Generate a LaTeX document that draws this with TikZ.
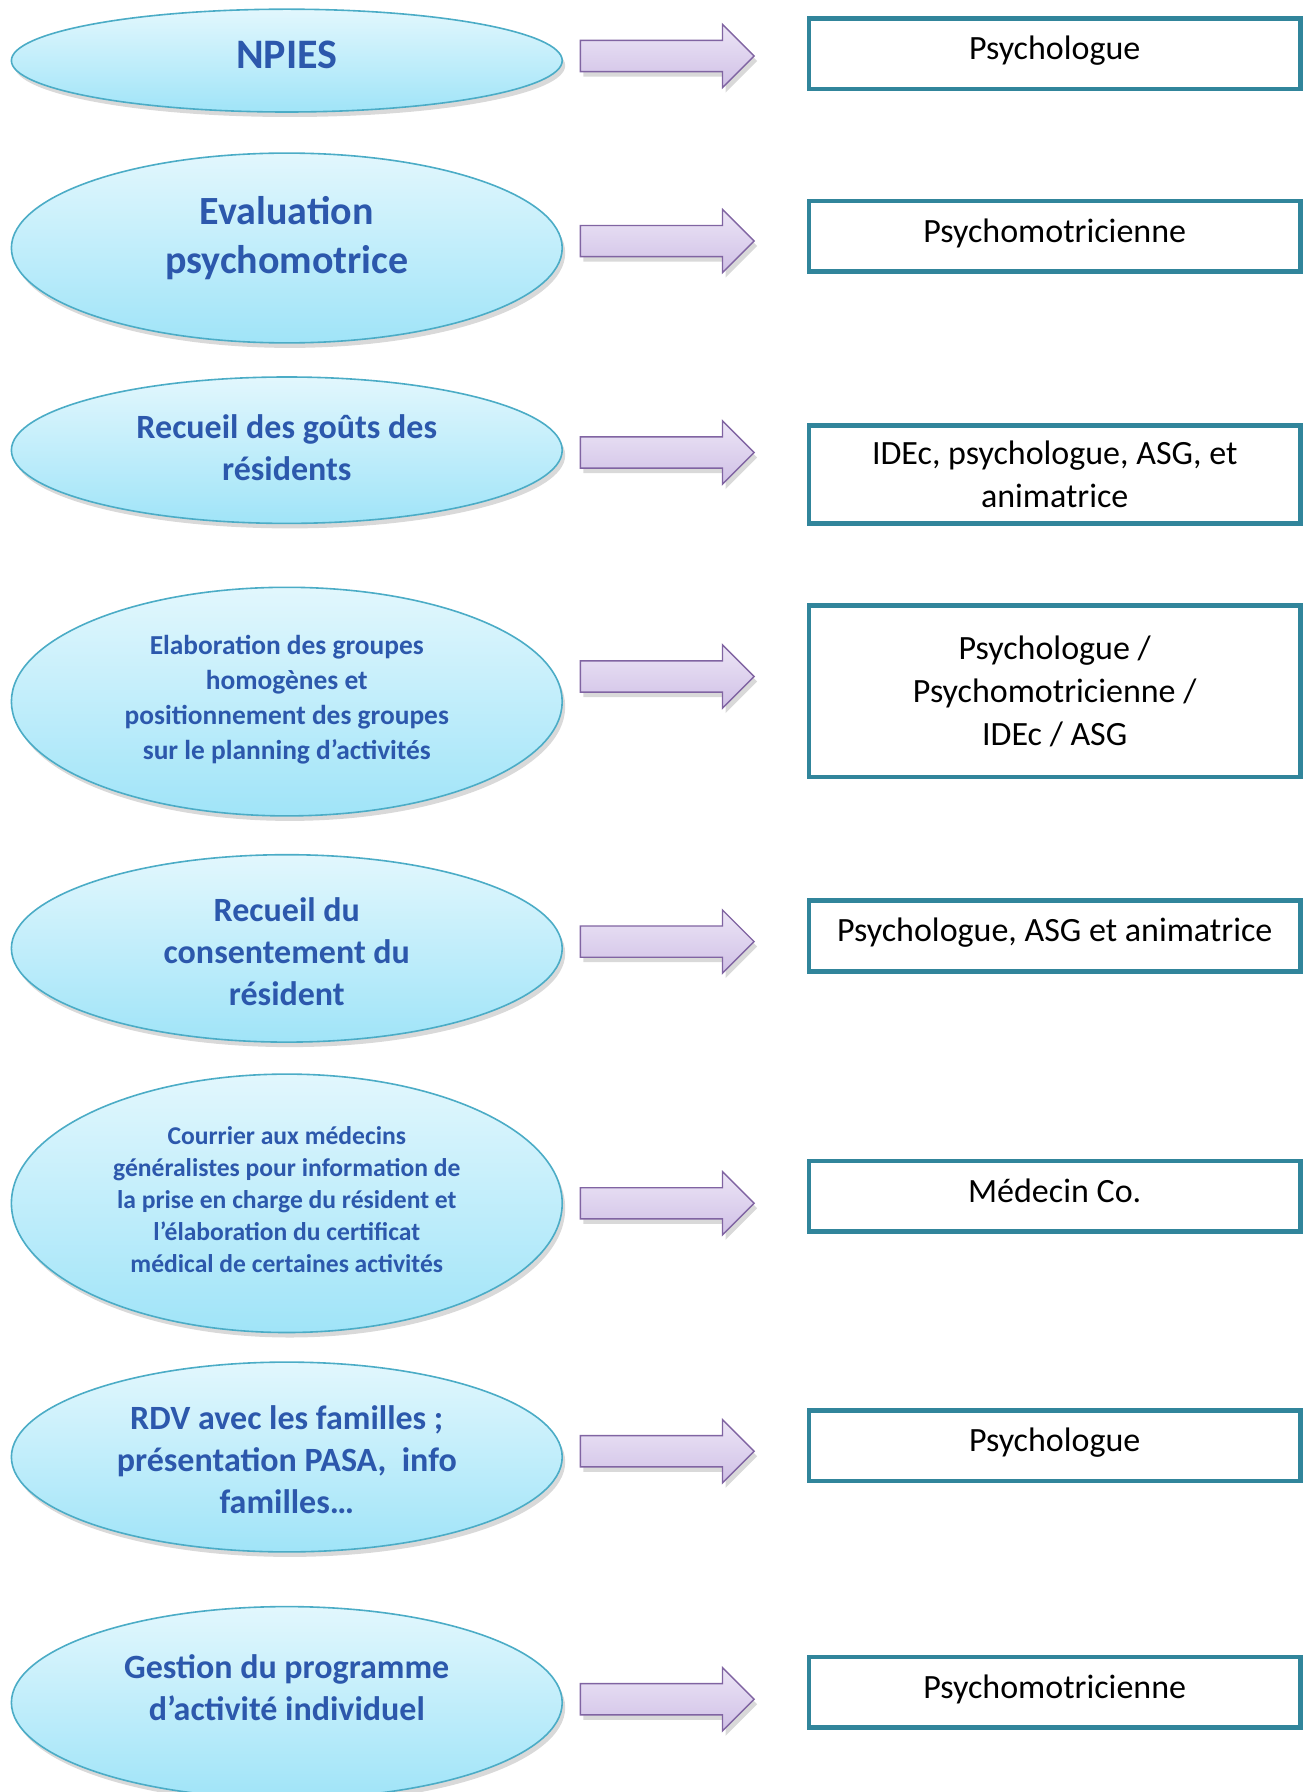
\documentclass[tikz,border=0pt]{standalone}
\usepackage{fontspec}
\setmainfont{Carlito}
\usetikzlibrary{shapes.geometric,shapes.arrows,shadows}
\definecolor{ellborder}{RGB}{75,172,198}
\definecolor{elltop}{RGB}{226,247,253}
\definecolor{ellbot}{RGB}{160,228,248}
\definecolor{elltext}{RGB}{44,88,172}
\definecolor{arrborder}{RGB}{128,100,162}
\definecolor{arrtop}{RGB}{236,229,246}
\definecolor{arrbot}{RGB}{208,192,230}
\definecolor{boxborder}{RGB}{49,133,155}
\tikzset{
  stepell/.style={ellipse, draw=ellborder, line width=0.8pt, top color=elltop, bottom color=ellbot,
    minimum width=275.4pt, inner sep=0pt,
    drop shadow={opacity=0.3, shadow xshift=1.5pt, shadow yshift=-2.5pt}},
  elltxt/.style={text=elltext, font=\bfseries, align=center, inner sep=0pt},
  rolebox/.style={draw=boxborder, line width=2.4pt, fill=white, minimum width=245.7pt,
    align=center, inner sep=0pt, font=\fontsize{17}{21.5}\selectfont},
  blockarr/.style={single arrow, draw=arrborder, line width=0.7pt, top color=arrtop, bottom color=arrbot,
    minimum height=86.9pt, minimum width=0pt, inner xsep=0pt, inner ysep=7.45pt,
    single arrow head extend=8pt,
    drop shadow={opacity=0.3, shadow xshift=1.5pt, shadow yshift=-2.5pt}}
}
\begin{document}
\begin{tikzpicture}[x=0.5pt,y=0.5pt]
\useasboundingbox (0,0) rectangle (1305,-1792);
% ellipses
\node[stepell, minimum height=51.4pt]  (e1) at (286.8,-60.6) {};
\node[stepell, minimum height=94.9pt]  (e2) at (286.8,-248) {};
\node[stepell, minimum height=73.2pt]  (e3) at (286.8,-450.2) {};
\node[stepell, minimum height=114.3pt] (e4) at (286.8,-701.6) {};
\node[stepell, minimum height=93.7pt]  (e5) at (286.8,-948.4) {};
\node[stepell, minimum height=129.2pt] (e6) at (286.8,-1203.3) {};
\node[stepell, minimum height=94.9pt]  (e7) at (286.8,-1457) {};
\node[stepell, minimum height=96pt]    (e8) at (286.8,-1702.6) {};
% ellipse texts
\node[elltxt, font=\bfseries\fontsize{21}{25}\selectfont] (t1) at (286.8,-54.9) {NPIES};
\node[elltxt, font=\bfseries\fontsize{20}{24.5}\selectfont] (t2) at (286.8,-237.7) {Evaluation\\psychomotrice};
\node[elltxt, font=\bfseries\fontsize{17}{21}\selectfont] (t3) at (286.8,-448) {Recueil des goûts des\\résidents};
\node[elltxt, font=\bfseries\fontsize{13.7}{17.5}\selectfont] (t4) at (286.8,-699.3) {Elaboration des groupes\\homogènes et\\positionnement des groupes\\sur le planning d’activités};
\node[elltxt, font=\bfseries\fontsize{17}{21}\selectfont] (t5) at (286.8,-951.9) {Recueil du\\consentement du\\résident};
\node[elltxt, font=\bfseries\fontsize{12.8}{16}\selectfont] (t6) at (286.8,-1200) {Courrier aux médecins\\généralistes pour information de\\la prise en charge du résident et\\l’élaboration du certificat\\médical de certaines activités};
\node[elltxt, font=\bfseries\fontsize{17}{21}\selectfont] (t7) at (286.8,-1460) {RDV avec les familles ;\\présentation PASA,~ info\\familles…};
\node[elltxt, font=\bfseries\fontsize{17}{21}\selectfont] (t8) at (286.8,-1687.8) {Gestion du programme\\d’activité individuel};
% arrows
\node[blockarr] (a1) at (659.4,-56) {};
\node[blockarr] (a2) at (659.4,-241.1) {};
\node[blockarr] (a3) at (659.4,-452.5) {};
\node[blockarr] (a4) at (659.4,-676.5) {};
\node[blockarr] (a5) at (659.4,-941.6) {};
\node[blockarr] (a6) at (659.4,-1203.3) {};
\node[blockarr] (a7) at (659.4,-1451.2) {};
\node[blockarr] (a8) at (659.4,-1699.2) {};
% boxes
\node[rolebox, minimum height=35.4pt, text depth=6pt] (b1) at (1054.7,-53.7) {Psychologue};
\node[rolebox, minimum height=35.4pt, text depth=6pt] (b2) at (1054.7,-236.5) {Psychomotricienne};
\node[rolebox, minimum height=49.1pt] (b3) at (1054.7,-474.2) {IDEc, psychologue, ASG, et\\animatrice};
\node[rolebox, minimum height=85.7pt] (b4) at (1054.7,-691.3) {Psychologue /\\Psychomotricienne /\\IDEc / ASG};
\node[rolebox, minimum height=35.4pt, text depth=6pt] (b5) at (1054.7,-935.9) {Psychologue, ASG et animatrice};
\node[rolebox, minimum height=35.4pt, text depth=6pt] (b6) at (1054.7,-1196.4) {Médecin Co.};
\node[rolebox, minimum height=35.4pt, text depth=6pt] (b7) at (1054.7,-1445.5) {Psychologue};
\node[rolebox, minimum height=35.4pt, text depth=6pt] (b8) at (1054.7,-1692.3) {Psychomotricienne};
\end{tikzpicture}
\end{document}
